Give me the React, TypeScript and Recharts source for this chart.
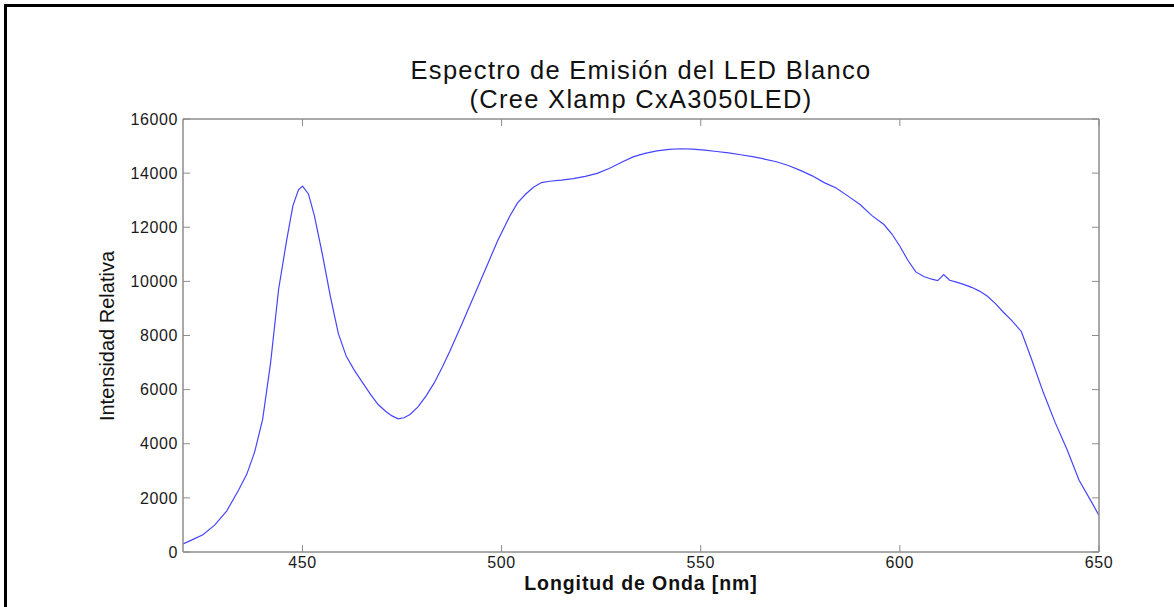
import { LineChart, Line, XAxis, YAxis } from 'recharts';

// Espectro de emisión del LED blanco (Cree Xlamp CxA3050LED)
const wavelengthNm = [
  420, 422, 425, 428, 431, 434, 436, 438, 440, 442, 444, 446, 447.6, 449, 450, 451.5, 453, 455,
  457, 459, 461, 463, 465, 467, 469, 471, 472.5, 474, 475.5, 477, 479, 481, 483, 485, 487, 490,
  493, 496, 499, 502, 504, 506, 508, 510, 512, 515, 518, 521, 524, 527, 530, 533, 536, 539, 542,
  545, 548, 551, 554, 557, 560, 563, 566, 569, 572, 575, 578, 581, 584, 587, 590, 593, 596, 598,
  600, 602, 604, 606, 608, 609.5, 611, 612.5, 614, 616, 618, 620, 622, 624, 626, 628, 630.5, 633,
  636, 639, 642, 645, 648, 650,
];

const intensity = [
  300, 430, 640, 1000, 1520, 2300, 2870, 3700, 4900, 7000, 9700, 11500, 12800, 13380, 13520, 13230,
  12420, 11000, 9450, 8080, 7230, 6720, 6280, 5840, 5450, 5180, 5030, 4920, 4960, 5080, 5360, 5760,
  6230, 6800, 7420, 8420, 9440, 10470, 11500, 12400, 12900, 13220, 13480, 13650, 13700, 13740,
  13800, 13880, 13990, 14170, 14390, 14600, 14730, 14820, 14880, 14900, 14890, 14850, 14800, 14750,
  14680, 14610, 14520, 14420, 14280, 14100, 13900, 13650, 13450, 13150, 12840, 12430, 12100, 11750,
  11300, 10780, 10350, 10180, 10080, 10030, 10250, 10040, 9980, 9890, 9780, 9640, 9450, 9180, 8860,
  8570, 8150, 7150, 5900, 4780, 3780, 2650, 1880, 1350,
];

const xTicks = [450, 500, 550, 600, 650];
const yTicks = [0, 2000, 4000, 6000, 8000, 10000, 12000, 14000, 16000];

const FONT = '"Liberation Sans", Arial, Helvetica, sans-serif';
const BOX = '#8c8c8c';

const data = wavelengthNm.map((nm, i) => ({ nm, value: intensity[i] }));

const tickStyle = { fontSize: 16, fill: '#1a1a1a', fontFamily: FONT, letterSpacing: 0.6 };
const noLabel = () => '';
const boxLine = { stroke: BOX, strokeWidth: 1.5 };

export default function App() {
  return (
    <div
      style={{
        position: 'absolute',
        left: 0,
        top: 0,
        width: 1174,
        height: 607,
        background: '#fff',
        overflow: 'hidden',
      }}
    >
      {/* marco negro del recorte original */}
      <div
        style={{
          position: 'absolute',
          left: 4,
          top: 4,
          width: 1200,
          height: 650,
          borderLeft: '3px solid #000',
          borderTop: '3px solid #000',
        }}
      />

      <div style={{ position: 'absolute', left: 0, top: 0 }}>
        {/* ejes de 1px: la caja del gráfico queda en x 183..1099, y 119..552 */}
        <LineChart
          width={1174}
          height={607}
          data={data}
          margin={{ top: 118, right: 74, bottom: 54, left: 182 }}
        >
          <XAxis
            dataKey="nm"
            type="number"
            domain={[420, 650]}
            ticks={xTicks}
            allowDataOverflow
            height={1}
            tickSize={-7}
            tickMargin={12}
            tick={tickStyle}
            axisLine={boxLine}
            tickLine={{ stroke: BOX }}
          />
          <XAxis
            xAxisId="top"
            orientation="top"
            dataKey="nm"
            type="number"
            domain={[420, 650]}
            ticks={xTicks}
            allowDataOverflow
            height={1}
            tickSize={-7}
            tickFormatter={noLabel}
            axisLine={boxLine}
            tickLine={{ stroke: BOX }}
          />
          <YAxis
            type="number"
            domain={[0, 16000]}
            ticks={yTicks}
            allowDataOverflow
            width={1}
            tickSize={-7}
            tickMargin={12}
            tick={tickStyle}
            axisLine={boxLine}
            tickLine={{ stroke: BOX }}
          />
          <YAxis
            yAxisId="right"
            orientation="right"
            type="number"
            domain={[0, 16000]}
            ticks={yTicks}
            allowDataOverflow
            width={1}
            tickSize={-7}
            tickFormatter={noLabel}
            axisLine={boxLine}
            tickLine={{ stroke: BOX }}
          />
          <Line
            type="linear"
            dataKey="value"
            stroke="#4545ff"
            strokeWidth={1.2}
            dot={false}
            isAnimationActive={false}
          />
        </LineChart>
      </div>

      <svg
        width={1174}
        height={607}
        style={{ position: 'absolute', left: 0, top: 0, pointerEvents: 'none' }}
        fontFamily={FONT}
      >
        <text x={641} y={79} textAnchor="middle" fontSize={25.5} fill="#111" letterSpacing={1.3}>
          Espectro de Emisión del LED Blanco
        </text>
        <text x={641} y={108} textAnchor="middle" fontSize={25.5} fill="#111" letterSpacing={1.3}>
          (Cree Xlamp CxA3050LED)
        </text>
        <text x={641} y={590} textAnchor="middle" fontSize={19.5} fontWeight="bold" fill="#111" letterSpacing={0.9}>
          Longitud de Onda [nm]
        </text>
        <text
          x={114}
          y={336}
          textAnchor="middle"
          fontSize={20}
          fill="#111"
          transform="rotate(-90 114 336)"
        >
          Intensidad Relativa
        </text>
      </svg>
    </div>
  );
}
